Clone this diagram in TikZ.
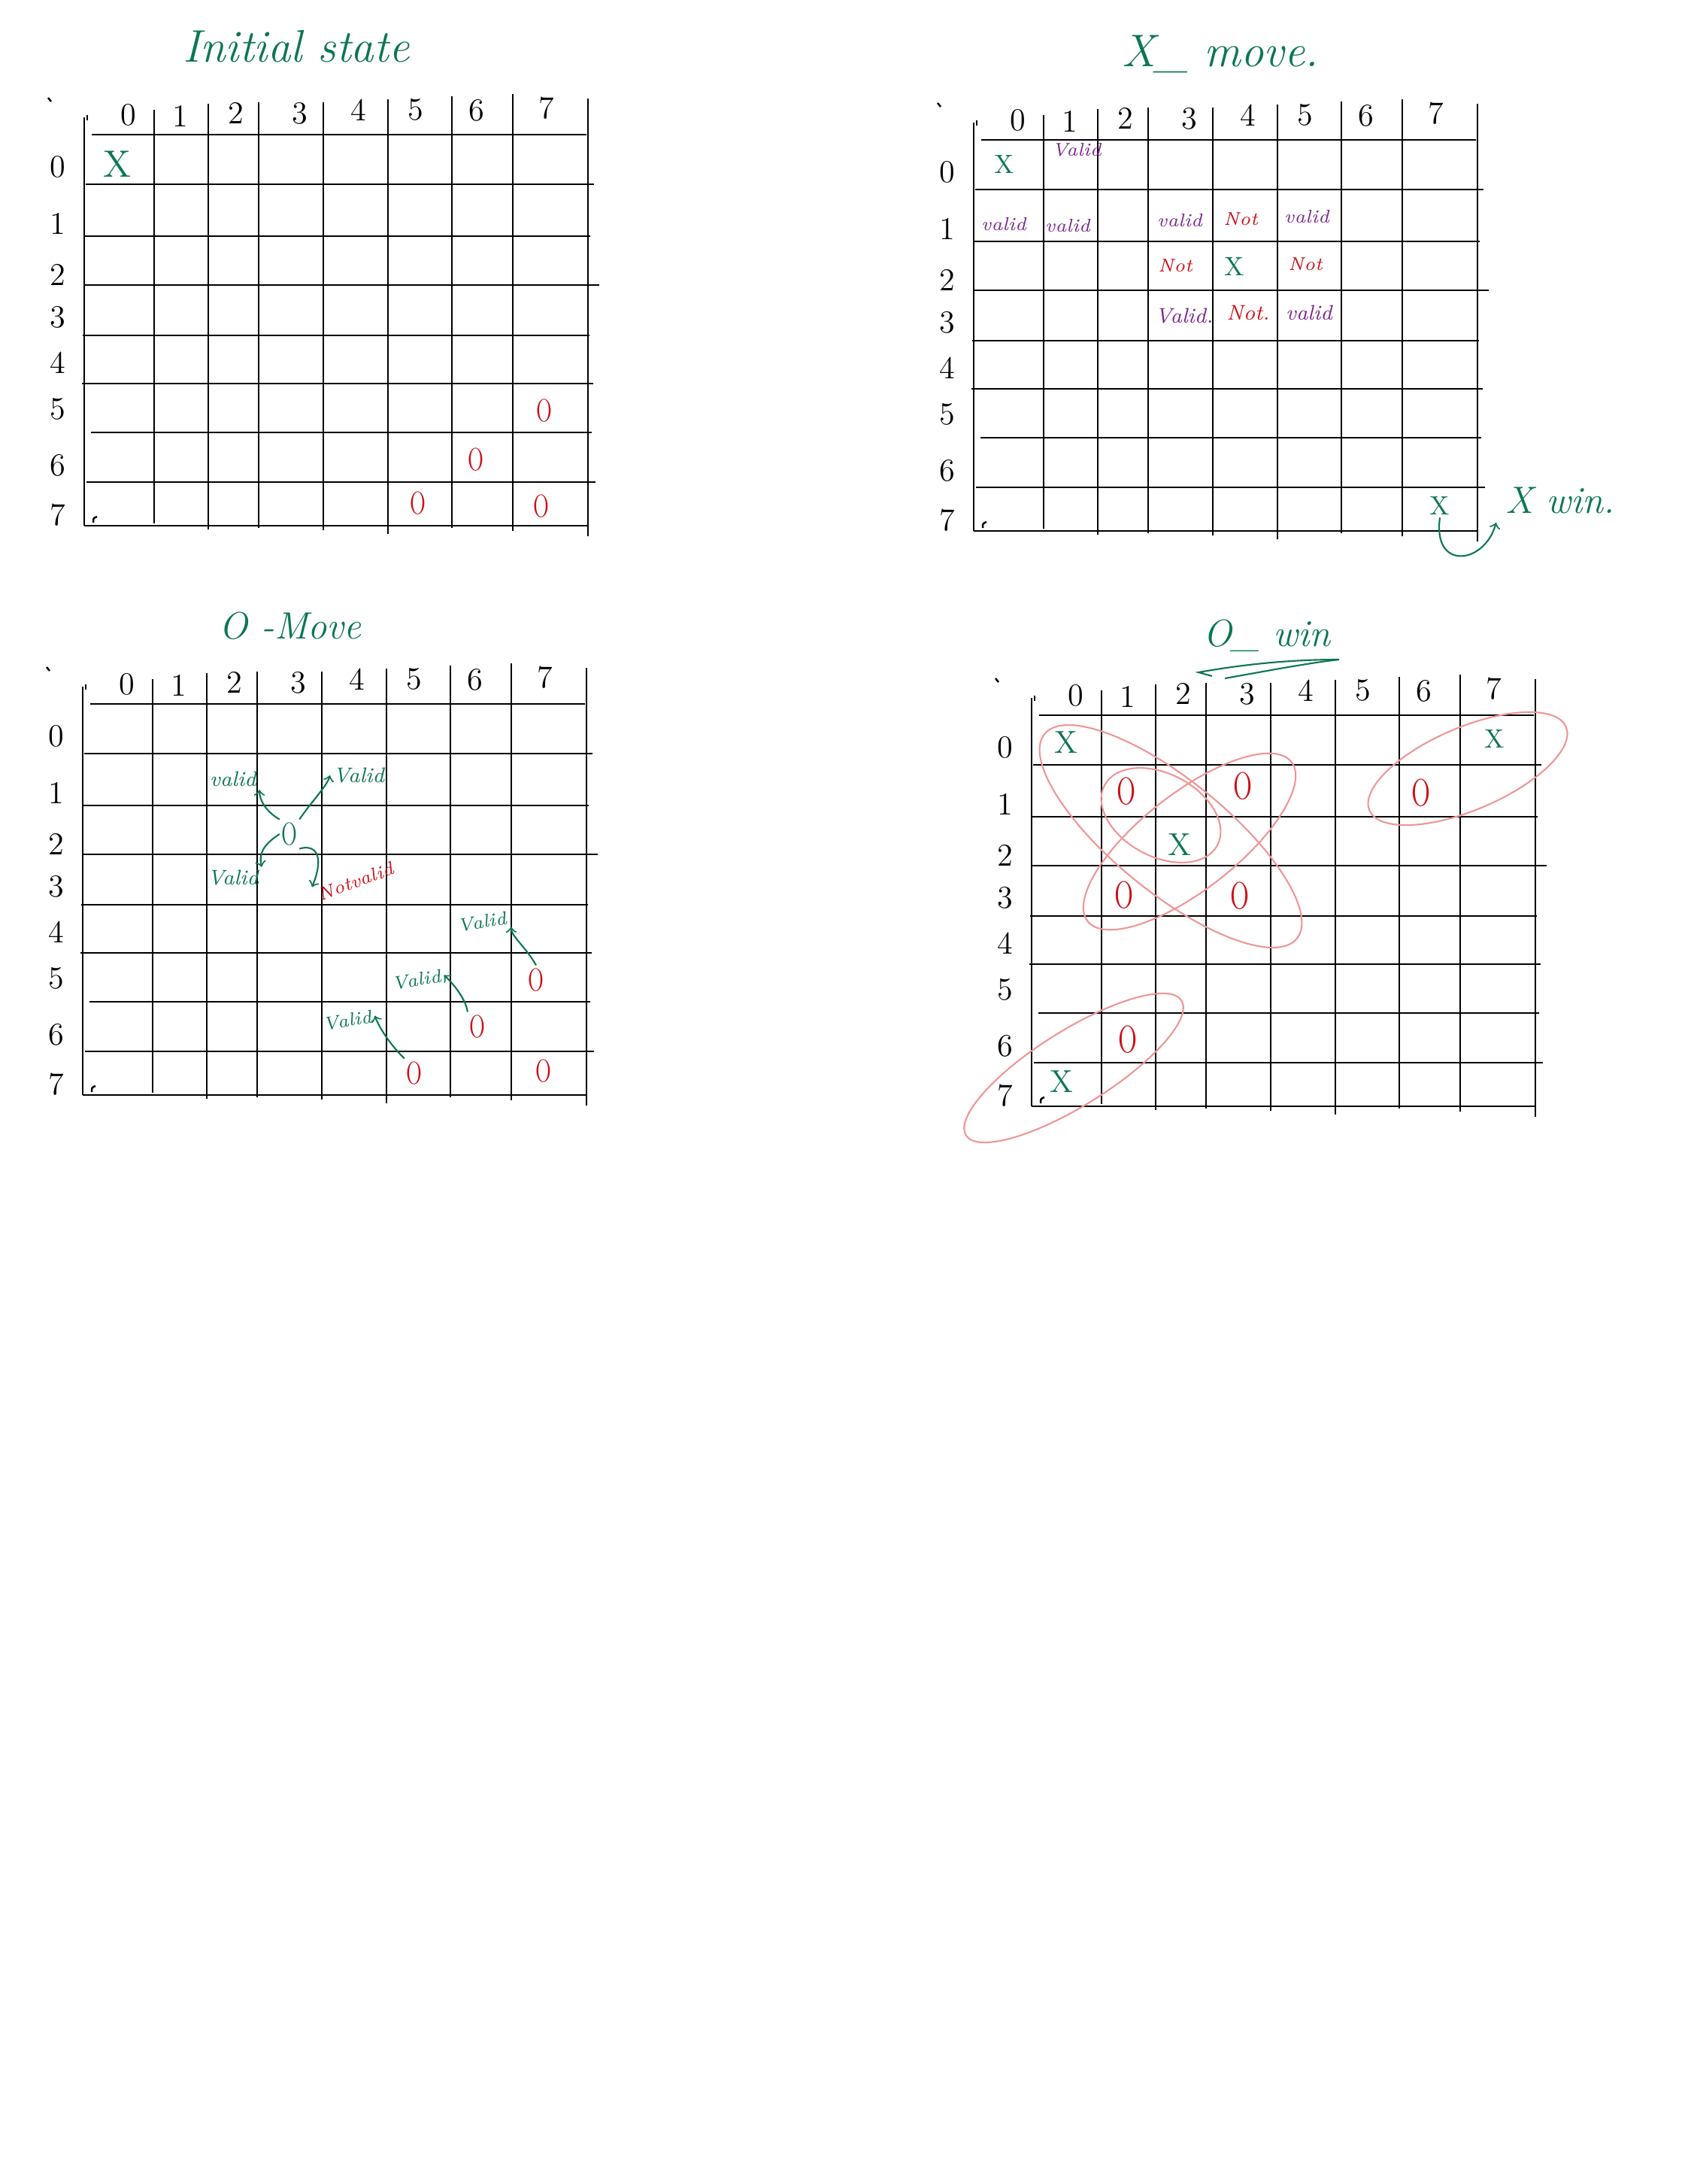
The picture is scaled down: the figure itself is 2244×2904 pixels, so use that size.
\documentclass[tikz,border=0pt]{standalone}
\usepackage{graphicx}
\definecolor{inkgreen}{RGB}{12,118,84}
\definecolor{inkred}{RGB}{204,16,24}
\definecolor{inkpurple}{RGB}{122,38,140}
\definecolor{ringpink}{RGB}{238,150,150}
\begin{document}
\begin{tikzpicture}[
    x=0.01cm, y=-0.01cm,
    gridline/.style={line width=0.7pt},
    digit/.style={font=\large, inner sep=1pt},
    heading/.style={text=inkgreen, font=\LARGE\itshape},
    xmark/.style={text=inkgreen, font=\Large, inner sep=1pt},
    omark/.style={text=inkred, font=\large, xscale=0.65, inner sep=1pt},
    word/.style={font=\scriptsize\itshape, inner sep=1pt},
    ring/.style={draw=ringpink, line width=0.6pt},
    ink/.style={draw=inkgreen, line width=0.6pt},
    arrow/.style={->, draw=inkgreen, line width=0.6pt},
    board/.pic={
        \foreach \y/\a/\b in {0/10/668, 66/2/678, 135/0/673, 200/1/685, 267/-2/672, 331/-3/677, 396/9/675, 462/3/680, 520/0/670}
            \draw[gridline] (\a,\y) -- (\b,\y);
        \foreach \x/\a/\b in {0/-23/520, 93/-33/517, 165/-41/525, 232/-43/523, 318/-43/526, 404/-47/531, 489/-51/523, 570/-54/527, 670/-48/534}
            \draw[gridline] (\x,\a) -- (\x,\b);
        \foreach \n/\x/\y in {0/59/-26, 1/128/-25, 2/202/-29, 3/287/-28, 4/365/-33, 5/441/-33, 6/522/-32, 7/615/-35}
            \node[digit] (-c\n) at (\x,\y) {\n};
        \foreach \n/\y in {0/43, 1/118, 2/186, 3/243, 4/303, 5/365, 6/440, 7/506}
            \node[digit] (-r\n) at (-35,\y) {\n};
        \draw[gridline] (-48,-49) -- (-44,-44);
        \draw[gridline] (4,-26) -- (4,-19);
        \draw[gridline] (12,516) .. controls (12,510) .. (17,508);
    }
]

\useasboundingbox (0,0) rectangle (2244,2904);

\pic (init) at (112,179) {board};
\pic (xmove) at (1295,186) {board};
\pic (omove) at (110,936) {board};
\pic (owin) at (1372,951) {board};

\node[heading] (inithead) at (394,62) {Initial state};
\node[heading] (xmovehead) at (1623,72) {X\textunderscore\ move.};
\node[heading, font=\Large\itshape] (omovehead) at (386,832) {O -Move};
\node[heading, font=\Large\itshape] (owinhead) at (1685,845) {O\textunderscore\ win};

\node[xmark] (ix00) at (156,218) {X};
\node[omark] (io57) at (724,546) {O};
\node[omark] (io66) at (633,611) {O};
\node[omark] (io75) at (556,669) {O};
\node[omark] (io77) at (720,673) {O};

\node[xmark, font=\normalsize] (xx00) at (1336,218) {X};
\node[word, text=inkpurple] (xv01) at (1432,199) {Valid};
\node[word, text=inkpurple] (xv10) at (1335,298) {valid};
\node[word, text=inkpurple] (xv11) at (1420,300) {valid};
\node[word, text=inkpurple] (xv13) at (1569,293) {valid};
\node[word, text=inkred] (xn14) at (1650,291) {Not};
\node[word, text=inkpurple] (xv15) at (1738,288) {valid};
\node[word, text=inkred] (xn23) at (1563,353) {Not};
\node[xmark, font=\normalsize] (xx24) at (1642,354) {X};
\node[word, text=inkred] (xn25) at (1736,351) {Not};
\node[word, font=\footnotesize\itshape, text=inkpurple] (xv33) at (1575,420) {Valid.};
\node[word, font=\footnotesize\itshape, text=inkred] (xn34) at (1660,416) {Not.};
\node[word, font=\footnotesize\itshape, text=inkpurple] (xv35) at (1741,416) {valid};
\node[xmark, font=\normalsize] (xx77) at (1915,672) {X};
\node[heading, font=\Large\itshape] (xwin) at (2075,665) {X win.};
\draw[arrow] (xx77.south) .. controls (1905,760) and (1975,750) .. (xwin.south west);

\node[omark, text=inkgreen] (oo23) at (385,1109) {O};
\node[word, font=\footnotesize\itshape, text=inkgreen] (ov12) at (310,1036) {valid};
\node[word, font=\footnotesize\itshape, text=inkgreen] (ov14) at (477,1031) {Valid};
\node[word, font=\footnotesize\itshape, text=inkgreen] (ov32) at (310,1167) {Valid};
\node[word, text=inkred, rotate=20] (on34) at (473,1172) {Notvalid};
\draw[arrow] (oo23.north west) .. controls (355,1080) and (345,1065) .. (ov12.south east);
\draw[arrow] (oo23.north east) .. controls (415,1065) and (435,1045) .. (ov14.west);
\draw[arrow] (oo23.west) .. controls (355,1120) and (343,1132) .. (ov32.north east);
\draw[arrow] (oo23.south east) .. controls (420,1122) and (432,1138) .. (on34.north west);
\node[omark] (oo57) at (713,1303) {O};
\node[omark] (oo66) at (635,1365) {O};
\node[omark] (oo75) at (551,1427) {O};
\node[omark] (oo77) at (723,1424) {O};
\node[word, text=inkgreen, rotate=10] (ov47) at (641,1226) {Valid};
\node[word, text=inkgreen, rotate=10] (ov56) at (554,1303) {Valid};
\node[word, text=inkgreen, rotate=10] (ov65) at (462,1357) {Valid};
\draw[arrow] (oo57.north) .. controls (700,1260) and (680,1245) .. (ov47.south east);
\draw[arrow] (oo66.north west) .. controls (620,1330) and (605,1310) .. (ov56.east);
\draw[arrow] (oo75.north west) .. controls (520,1390) and (505,1368) .. (ov65.east);

\coordinate (wtail) at (1781,877);
\coordinate (wtip) at (1594,894);
\coordinate (wback) at (1629,902);
\draw[ink] (wtail) .. controls (1712,877) and (1650,884) .. (wtip) -- (1612,899);
\draw[ink] (wback) .. controls (1686,892) and (1737,882) .. (wtail);

\node[xmark, font=\large] (wx00) at (1418,987) {X};
\node[xmark, font=\normalsize] (wx07) at (1988,982) {X};
\node[omark, font=\Large] (wo11) at (1498,1052) {O};
\node[omark, font=\Large] (wo13) at (1653,1045) {O};
\node[omark, font=\Large] (wo16) at (1890,1054) {O};
\node[xmark, font=\large] (wx22) at (1569,1123) {X};
\node[omark, font=\Large] (wo31) at (1495,1190) {O};
\node[omark, font=\Large] (wo33) at (1649,1191) {O};
\node[omark, font=\Large] (wo61) at (1500,1382) {O};
\node[xmark, font=\large] (wx70) at (1412,1438) {X};

\draw[ring, rotate around={-39:(1557,1112)}] (1557,1112) ellipse [x radius=216, y radius=75];
\draw[ring, rotate around={-28:(1544,1084)}] (1544,1084) ellipse [x radius=85, y radius=55];
\draw[ring, rotate around={38:(1582,1119)}] (1582,1119) ellipse [x radius=172, y radius=64];
\draw[ring, rotate around={32:(1428,1420)}] (1428,1420) ellipse [x radius=169, y radius=50];
\draw[ring, rotate around={23:(1952,1022)}] (1952,1022) ellipse [x radius=142, y radius=55];

\end{tikzpicture}
\end{document}
